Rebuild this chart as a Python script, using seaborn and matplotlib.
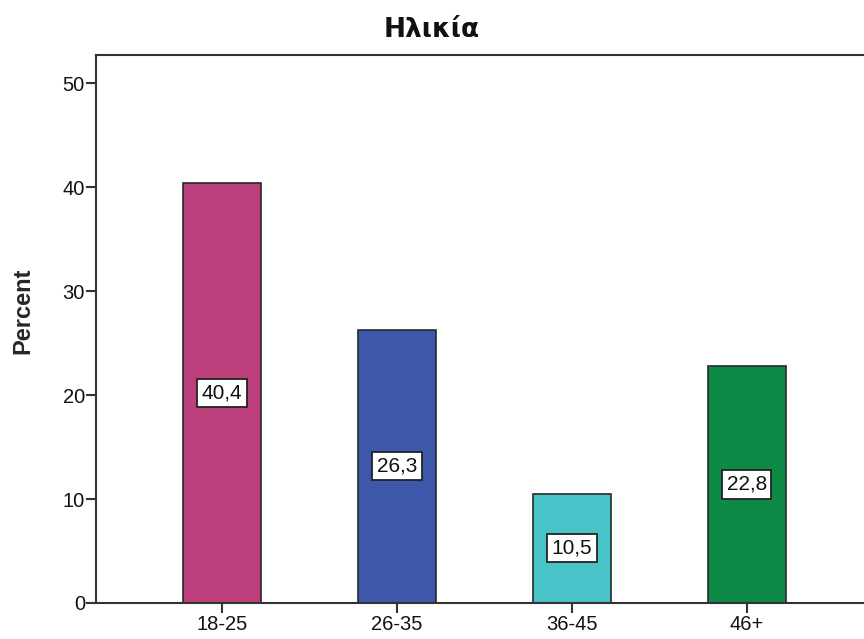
import matplotlib
matplotlib.use("Agg")
import matplotlib.pyplot as plt
import seaborn as sns
import pandas as pd

# Age-group distribution (percent of respondents)
categories = ["18-25", "26-35", "36-45", "46+"]
percents = [40.4, 26.3, 10.5, 22.8]
bar_colors = ["#BC3F7C", "#3D58A8", "#48C3C7", "#0F8A46"]
title_text = "Ηλικία"
y_label = "Percent"
y_ticks = [0, 10, 20, 30, 40, 50]

sns.set_theme(style="white")
plt.rcParams["font.family"] = ["Liberation Sans", "DejaVu Sans"]

df = pd.DataFrame({"group": categories, "pct": percents})

fig = plt.figure(figsize=(8.64, 6.39), dpi=100)
ax = fig.add_axes([96 / 864, 36 / 639, 1 - 96 / 864, (603 - 55) / 639])

sns.barplot(data=df, x="group", y="pct", hue="group", palette=bar_colors,
            order=categories, hue_order=categories, legend=False,
            width=0.446, edgecolor="#2a2a2a", linewidth=1.2, saturation=1,
            ax=ax)

# Value boxes at mid-height of each bar
for i, v in enumerate(percents):
    ax.text(i, v / 2, f"{v:.1f}".replace(".", ","), ha="center", va="center",
            fontsize=15, color="#111111",
            bbox=dict(boxstyle="square,pad=0.22", facecolor="white",
                      edgecolor="#222222", linewidth=1.3))

ax.set_xlim(-0.72, 3.67)
ax.set_ylim(0, 52.7)
ax.set_yticks(y_ticks)
ax.set_yticklabels([str(t) for t in y_ticks])
ax.set_xlabel("")
ax.set_ylabel(y_label, fontsize=17, fontweight="bold")
ax.yaxis.set_label_coords(-0.08, (603 - 311) / 548)

fig.text(432 / 864, 1 - 30 / 639, title_text, ha="center", va="center",
         fontsize=19, fontweight="bold", family=["DejaVu Sans"],
         color="#111111")

for side in ["left", "bottom", "top"]:
    ax.spines[side].set_visible(True)
    ax.spines[side].set_color("#333333")
    ax.spines[side].set_linewidth(1.5)
ax.spines["right"].set_visible(False)

ax.tick_params(axis="both", direction="out", length=7, width=1.5,
               colors="#333333", labelcolor="#111111", labelsize=14.5,
               left=True, bottom=True)
ax.tick_params(axis="y", pad=1)
ax.tick_params(axis="x", pad=2)

fig.savefig("out.png", dpi=100)
